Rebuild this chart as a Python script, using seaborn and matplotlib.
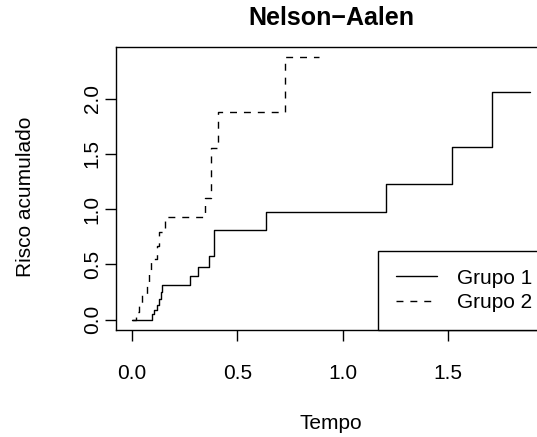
import matplotlib
matplotlib.use("Agg")
import matplotlib.pyplot as plt
import seaborn as sns
import pandas as pd

# ---- data ----
g1_time = [0.0, 0.093, 0.106, 0.118, 0.130, 0.137, 0.142, 0.277, 0.315, 0.365, 0.390, 0.637, 1.207, 1.521, 1.708]
g1_haz = [0.0, 0.05, 0.09, 0.13, 0.19, 0.25, 0.316, 0.394, 0.476, 0.578, 0.812, 0.978, 1.227, 1.561, 2.061]
g1_end = 1.89

g2_time = [0.0, 0.020, 0.035, 0.050, 0.070, 0.082, 0.090, 0.120, 0.130, 0.158, 0.345, 0.377, 0.408, 0.728]
g2_haz = [0.0, 0.07, 0.15, 0.23, 0.307, 0.43, 0.548, 0.67, 0.789, 0.933, 1.10, 1.556, 1.877, 2.377]
g2_end = 0.89

group_labels = ["Grupo 1", "Grupo 2"]
x_ticks = [0.0, 0.5, 1.0, 1.5]
y_ticks = [0.0, 0.5, 1.0, 1.5, 2.0]

d1 = pd.DataFrame({"Tempo": g1_time + [g1_end], "Risco": g1_haz + [g1_haz[-1]]})
d2 = pd.DataFrame({"Tempo": g2_time + [g2_end], "Risco": g2_haz + [g2_haz[-1]]})

sns.set_style("white")
plt.rcParams["font.family"] = ["Liberation Sans", "DejaVu Sans"]
plt.rcParams["text.color"] = "black"
plt.rcParams["axes.labelcolor"] = "black"
plt.rcParams["xtick.color"] = "black"
plt.rcParams["ytick.color"] = "black"

FS = 15
W, H = 537, 437
fig = plt.figure(figsize=(W / 100, H / 100), dpi=100)
left, right, top, bottom = 116, 546, 46.7, 330
ax = fig.add_axes([left / W, 1 - bottom / H, (right - left) / W, (bottom - top) / H])

sns.lineplot(data=d1, x="Tempo", y="Risco", ax=ax, color="black", lw=1.0,
             drawstyle="steps-post", estimator=None, sort=False, label=group_labels[0])
sns.lineplot(data=d2, x="Tempo", y="Risco", ax=ax, color="black", lw=1.0,
             linestyle=(0, (5, 5)), drawstyle="steps-post", estimator=None, sort=False,
             label=group_labels[1])

ax.set_xlim(-0.0756, 1.9654)
ax.set_ylim(-0.0948, 2.4712)
ax.set_xticks(x_ticks)
ax.set_yticks(y_ticks)
ax.set_xticklabels([f"{v:.1f}" for v in x_ticks])
ax.set_yticklabels([f"{v:.1f}" for v in y_ticks], rotation=90, va="center")

for s in ax.spines.values():
    s.set_color("black")
    s.set_linewidth(1.0)

ax.tick_params(axis="both", which="major", direction="out", length=8, width=1.0,
               color="black", labelsize=FS, labelcolor="black")
ax.tick_params(axis="x", pad=16.8, bottom=True)
ax.tick_params(axis="y", pad=2.2, left=True)

ax.set_xlabel("Tempo", fontsize=FS, color="black")
ax.set_ylabel("Risco acumulado", fontsize=FS, color="black")
ax.xaxis.set_label_coords(0.5, -0.296)
ax.yaxis.set_label_coords(-0.188, 0.47)
ax.set_title("Nelson\u2212Aalen", fontsize=18, fontweight="bold", pad=15.5, color="black")

leg = ax.legend(loc="lower left", bbox_to_anchor=(0.61, 0.0, 0.39, 0.279), mode="expand",
                borderaxespad=0, fontsize=FS, frameon=True, fancybox=False, framealpha=1,
                edgecolor="black", handlelength=1.97, handletextpad=0.96,
                borderpad=0.87, labelspacing=0.25)
leg.get_frame().set_linewidth(1.0)
for t in leg.get_texts():
    t.set_color("black")

fig.savefig("out.png", dpi=100, facecolor="white")
